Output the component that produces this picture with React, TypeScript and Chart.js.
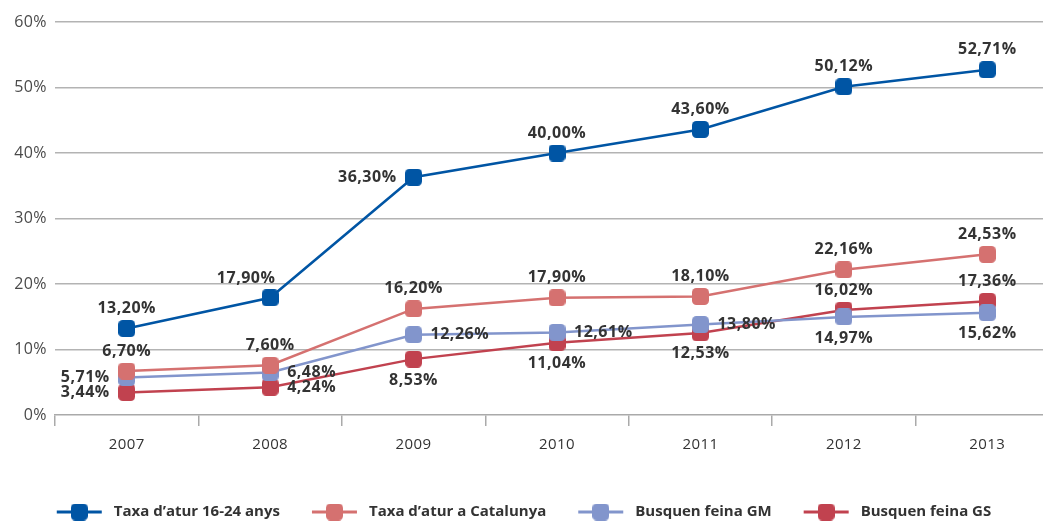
import React, { useEffect, useRef } from "react";
import { Chart, registerables } from "chart.js";

Chart.register(...registerables);

const years = ["2007", "2008", "2009", "2010", "2011", "2012", "2013"];
const taxa1624 = [13.2, 17.9, 36.3, 40.0, 43.6, 50.12, 52.71];
const taxaCat = [6.7, 7.6, 16.2, 17.9, 18.1, 22.16, 24.53];
const feinaGM = [5.71, 6.48, 12.26, 12.61, 13.8, 14.97, 15.62];
const feinaGS = [3.44, 4.24, 8.53, 11.04, 12.53, 16.02, 17.36];
const seriesNames = [
  "Taxa d’atur 16-24 anys",
  "Taxa d’atur a Catalunya",
  "Busquen feina GM",
  "Busquen feina GS",
];
const yTicks = [0, 10, 20, 30, 40, 50, 60];
// label placement around each point: t = top, b = bottom, l = left, r = right, tl = top-left
const pos1624 = ["t", "tl", "l", "t", "t", "t", "t"];
const posCat = ["t", "t", "t", "t", "t", "t", "t"];
const posGM = ["l", "r", "r", "r", "r", "b", "b"];
const posGS = ["l", "r", "b", "b", "b", "t", "t"];

const colors = ["#0055a4", "#d57170", "#8295cc", "#c1424f"];
const FONT = '"Open Sans", "Noto Sans", sans-serif';

function makeMarker(color: string) {
  const c = document.createElement("canvas");
  c.width = 17;
  c.height = 17;
  const g = c.getContext("2d")!;
  g.fillStyle = color;
  g.beginPath();
  (g as any).roundRect(0, 0, 17, 17, 4.5);
  g.fill();
  return c;
}

const fmt = (v: number) => v.toFixed(2).replace(".", ",") + "%";

export default function App() {
  const ref = useRef<HTMLCanvasElement>(null);
  useEffect(() => {
    document.body.style.margin = "0";
    const markers = colors.map(makeMarker);
    const allValues = [taxa1624, taxaCat, feinaGM, feinaGS];
    const allPos = [pos1624, posCat, posGM, posGS];

    const spacingPlugin = {
      id: "spacing",
      beforeDraw(chart: any) {
        (chart.ctx as any).letterSpacing = "0.4px";
      },
    };

    const labelPlugin = {
      id: "valueLabels",
      afterDatasetsDraw(chart: any) {
        const ctx = chart.ctx;
        ctx.save();
        (ctx as any).letterSpacing = "0.5px";
        ctx.font = `bold 16px ${FONT}`;
        ctx.fillStyle = "#333333";
        ctx.textBaseline = "middle";
        chart.data.datasets.forEach((ds: any, di: number) => {
          const meta = chart.getDatasetMeta(di);
          meta.data.forEach((pt: any, i: number) => {
            const text = fmt(ds.data[i]);
            const p = allPos[di][i];
            let x = pt.x;
            let y = pt.y;
            ctx.textAlign = "center";
            if (p === "t") y -= 20;
            else if (p === "b") y += 21;
            else if (p === "l") {
              ctx.textAlign = "right";
              x -= 17;
            } else if (p === "r") {
              ctx.textAlign = "left";
              x += 17;
            } else if (p === "tl") {
              x -= 24;
              y -= 19;
            }
            ctx.fillText(text, x, y);
          });
        });
        ctx.restore();
      },
    };

    const legendPlugin = {
      id: "lineLegend",
      afterDraw(chart: any) {
        const ctx = chart.ctx;
        ctx.save();
        (ctx as any).letterSpacing = "0px";
        ctx.font = `bold 15px ${FONT}`;
        const lineW = 45;
        const gapText = 12;
        const gapItem = 32;
        const widths = seriesNames.map((n) => ctx.measureText(n).width);
        const total =
          widths.reduce((a, b) => a + b + lineW + gapText, 0) + gapItem * (seriesNames.length - 1);
        let x = 524 - total / 2;
        const y = 512;
        seriesNames.forEach((n, i) => {
          ctx.strokeStyle = colors[i];
          ctx.lineWidth = 3;
          ctx.beginPath();
          ctx.moveTo(x, y);
          ctx.lineTo(x + lineW, y);
          ctx.stroke();
          ctx.drawImage(markers[i], x + lineW / 2 - 8.5, y - 8.5);
          ctx.fillStyle = "#333333";
          ctx.textAlign = "left";
          ctx.textBaseline = "middle";
          ctx.fillText(n, x + lineW + gapText, y);
          x += lineW + gapText + widths[i] + gapItem;
        });
        ctx.restore();
      },
    };

    const chart = new Chart(ref.current!, {
      type: "line",
      data: {
        labels: years,
        datasets: allValues.map((vals, i) => ({
          label: seriesNames[i],
          data: vals,
          borderColor: colors[i],
          backgroundColor: colors[i],
          borderWidth: 2.5,
          tension: 0,
          pointStyle: markers[i] as any,
          pointRadius: 8.5,
        })),
      },
      options: {
        responsive: false,
        animation: false,
        devicePixelRatio: 1,
        events: [],
        layout: { padding: { top: 22, right: 6, left: 0, bottom: 0 } },
        plugins: {
          legend: { display: false },
          tooltip: { enabled: false },
        },
        scales: {
          x: {
            type: "category",
            offset: true,
            afterFit(axis: any) {
              axis.height = 107;
            },
            grid: {
              offset: true,
              drawOnChartArea: false,
              drawTicks: true,
              tickLength: 11,
              color: "#aaaaaa",
              lineWidth: 1.5,
            },
            border: { display: true, color: "#aaaaaa", width: 1.5 },
            ticks: {
              color: "#333333",
              font: { family: FONT, size: 15 },
              padding: 10,
              maxRotation: 0,
            },
          },
          y: {
            min: 0,
            max: 60,
            afterFit(axis: any) {
              axis.width = 55;
            },
            afterBuildTicks(axis: any) {
              axis.ticks = yTicks.map((v) => ({ value: v }));
            },
            grid: {
              drawTicks: false,
              color: (c: any) => (c.tick && c.tick.value === 0 ? "rgba(0,0,0,0)" : "#b3b3b3"),
              lineWidth: 1.5,
            },
            border: { display: false },
            ticks: {
              color: "#4a4a4a",
              padding: 8,
              font: { family: FONT, size: 16 },
              callback: (v: any) => `${v}%`,
            },
          },
        },
      },
      plugins: [spacingPlugin, labelPlugin, legendPlugin],
    });
    return () => chart.destroy();
  }, []);

  return (
    <div style={{ width: 1043, height: 522, overflow: "hidden", position: "relative" }}>
      <canvas ref={ref} width={1070} height={522} style={{ display: "block" }} />
    </div>
  );
}
